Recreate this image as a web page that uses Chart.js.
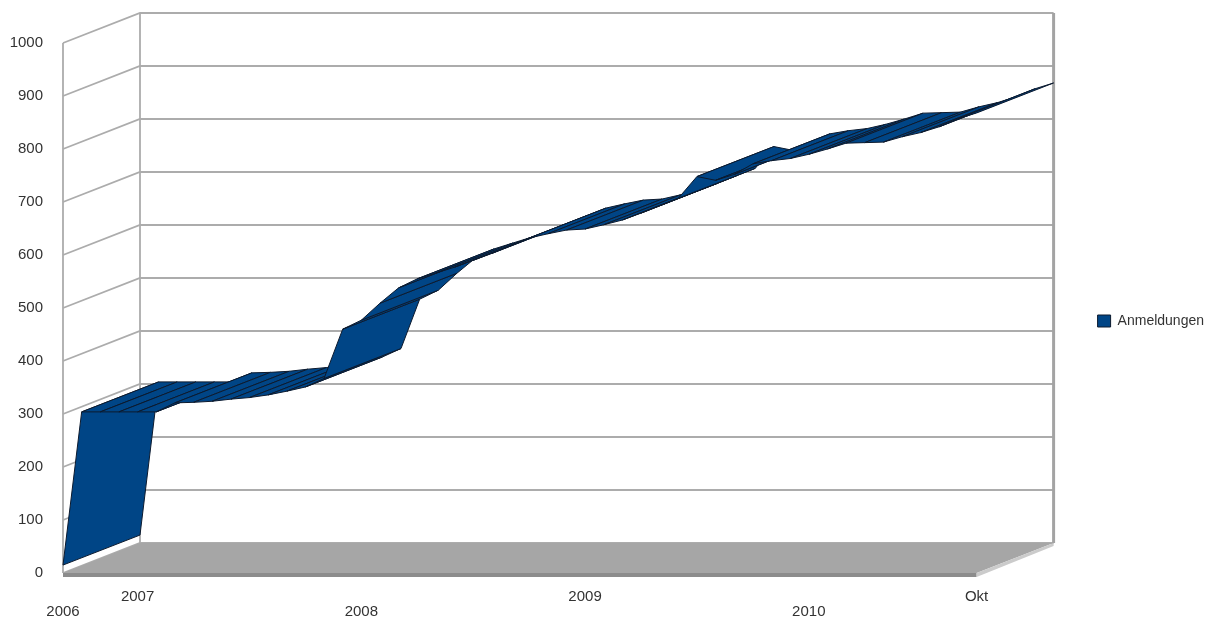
<!DOCTYPE html>
<html>
<head>
<meta charset="utf-8">
<script src="https://cdn.jsdelivr.net/npm/chart.js@4.4.1/dist/chart.umd.min.js"></script>
<style>
    html, body { margin: 0; padding: 0; background: #ffffff; }
    #wrap { width: 1217px; height: 617px; position: relative; }
</style>
</head>
<body>
<div id="wrap"><canvas id="anmeldungenChart"></canvas></div>
<script>
// Monthly categories, Sep 2006 .. Okt 2010
const categories = [
    'Sep 2006', 'Okt 2006', 'Nov 2006', 'Dez 2006',
    'Jan 2007', 'Feb 2007', 'Mär 2007', 'Apr 2007', 'Mai 2007', 'Jun 2007',
    'Jul 2007', 'Aug 2007', 'Sep 2007', 'Okt 2007', 'Nov 2007', 'Dez 2007',
    'Jan 2008', 'Feb 2008', 'Mär 2008', 'Apr 2008', 'Mai 2008', 'Jun 2008',
    'Jul 2008', 'Aug 2008', 'Sep 2008', 'Okt 2008', 'Nov 2008', 'Dez 2008',
    'Jan 2009', 'Feb 2009', 'Mär 2009', 'Apr 2009', 'Mai 2009', 'Jun 2009',
    'Jul 2009', 'Aug 2009', 'Sep 2009', 'Okt 2009', 'Nov 2009', 'Dez 2009',
    'Jan 2010', 'Feb 2010', 'Mär 2010', 'Apr 2010', 'Mai 2010', 'Jun 2010',
    'Jul 2010', 'Aug 2010', 'Sep 2010', 'Okt 2010'
];

const anmeldungen = [
    15, 304, 304, 304, 304, 304, 321, 322, 324, 328,
    331, 336, 343, 351, 367, 460, 477, 509, 538, 555,
    566, 577, 590, 603, 618, 632, 640, 647, 649, 657,
    666, 679, 693, 707, 748, 741, 752, 772, 778, 782,
    790, 800, 811, 812, 813, 823, 831, 842, 857, 868
];

// x labels that are shown, and in which row (0 = upper, 1 = lower)
const tickIndex = [0, 4, 16, 28, 40, 49];
const tickText = ['2006', '2007', '2008', '2009', '2010', 'Okt'];
const tickRow = [1, 0, 1, 0, 1, 0];

const yMin = 0;
const yMax = 1000;
const yStep = 100;

const FONT = '"Liberation Sans", Arial, sans-serif';
const DX = 77;   // depth offset of the 3d box
const DY = -30;

const depthPlugin = {
    id: 'depth3d',
    beforeDatasetsDraw(chart) {
        const { ctx, chartArea: a, scales: { y } } = chart;
        const y0 = y.getPixelForValue(yMin);
        const yTop = y.getPixelForValue(yMax);
        ctx.save();

        // back wall + side wall grid
        ctx.strokeStyle = '#acacac';
        ctx.lineWidth = 1.8;
        y.ticks.forEach(t => {
            const py = y.getPixelForValue(t.value);
            ctx.beginPath();
            ctx.moveTo(a.left, py);
            ctx.lineTo(a.left + DX, py + DY);
            ctx.lineTo(a.right + DX, py + DY);
            ctx.stroke();
        });
        ctx.beginPath();
        ctx.moveTo(a.left, yTop);
        ctx.lineTo(a.left, y0);
        ctx.moveTo(a.left + DX, yTop + DY);
        ctx.lineTo(a.left + DX, y0 + DY);
        ctx.stroke();

        ctx.strokeStyle = '#a3a3a3';
        ctx.lineWidth = 3;
        ctx.beginPath();
        ctx.moveTo(a.right + DX, yTop + DY);
        ctx.lineTo(a.right + DX, y0 + DY);
        ctx.stroke();

        // floor
        ctx.fillStyle = '#a6a6a6';
        ctx.beginPath();
        ctx.moveTo(a.left, y0);
        ctx.lineTo(a.right, y0);
        ctx.lineTo(a.right + DX, y0 + DY);
        ctx.lineTo(a.left + DX, y0 + DY);
        ctx.closePath();
        ctx.fill();
        ctx.fillStyle = '#8c8c8c';
        ctx.fillRect(a.left, y0, a.right - a.left, 4);
        ctx.fillStyle = '#cbcbcb';
        ctx.beginPath();
        ctx.moveTo(a.right, y0);
        ctx.lineTo(a.right + DX, y0 + DY);
        ctx.lineTo(a.right + DX, y0 + DY + 3);
        ctx.lineTo(a.right, y0 + 4);
        ctx.closePath();
        ctx.fill();
        ctx.restore();
    },
    afterDatasetsDraw(chart) {
        const { ctx } = chart;
        const pts = chart.getDatasetMeta(0).data;
        ctx.save();
        ctx.fillStyle = '#004586';
        ctx.strokeStyle = '#0c1a2e';
        ctx.lineWidth = 1;
        ctx.lineJoin = 'round';
        // ribbon: one quad per segment, front edge + back edge
        for (let i = 0; i < pts.length - 1; i++) {
            const p = pts[i], q = pts[i + 1];
            ctx.beginPath();
            ctx.moveTo(p.x, p.y);
            ctx.lineTo(q.x, q.y);
            ctx.lineTo(q.x + DX, q.y + DY);
            ctx.lineTo(p.x + DX, p.y + DY);
            ctx.closePath();
            ctx.fill();
            ctx.stroke();
        }
        ctx.restore();
    }
};

const ctx = document.getElementById('anmeldungenChart').getContext('2d');
new Chart(ctx, {
    type: 'line',
    data: {
        labels: categories,
        datasets: [{
            label: 'Anmeldungen',
            data: anmeldungen,
            backgroundColor: '#004586',
            borderColor: '#0c1a2e',
            borderWidth: 1,
            showLine: false,
            pointRadius: 0,
            pointHoverRadius: 0
        }]
    },
    options: {
        responsive: true,
        maintainAspectRatio: false,
        animation: false,
        layout: { padding: { left: 0, right: 3, top: 43, bottom: 0 } },
        scales: {
            x: {
                offset: false,
                grid: { display: false, drawTicks: false },
                border: { display: false },
                afterFit: scale => { scale.height = 44; },
                ticks: {
                    autoSkip: false,
                    maxRotation: 0,
                    minRotation: 0,
                    padding: 16,
                    color: '#333333',
                    font: { family: FONT, size: 15, lineHeight: 1 },
                    callback: (value, index) => {
                        const k = tickIndex.indexOf(index);
                        if (k < 0) return '';
                        return tickRow[k] ? ['', tickText[k]] : [tickText[k]];
                    }
                }
            },
            y: {
                min: yMin,
                max: yMax,
                grid: { display: false, drawTicks: false },
                border: { display: false },
                afterFit: scale => { scale.width = 63; },
                ticks: {
                    stepSize: yStep,
                    padding: 20,
                    color: '#333333',
                    font: { family: FONT, size: 15 },
                    callback: v => String(v)
                }
            }
        },
        plugins: {
            tooltip: { enabled: false },
            legend: {
                position: 'right',
                fullSize: false,
                title: { display: true, text: '', padding: 7, font: { size: 10, lineHeight: 1.2 } },
                labels: {
                    boxWidth: 13,
                    boxHeight: 12,
                    padding: 121,
                    color: '#333333',
                    font: { family: FONT, size: 14 }
                }
            }
        }
    },
    plugins: [depthPlugin]
});
</script>
</body>
</html>
